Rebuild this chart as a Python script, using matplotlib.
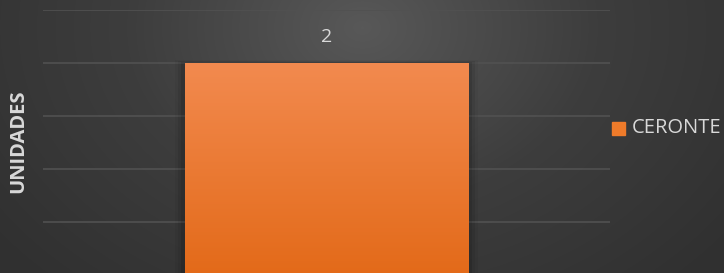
import numpy as np
import matplotlib
matplotlib.use("Agg")
import matplotlib.pyplot as plt
from matplotlib.colors import LinearSegmentedColormap

categories = ["CERONTE"]
values = [2]
series_name = "CERONTE"
y_label = "UNIDADES"

W, H = 724, 273
fig = plt.figure(figsize=(W / 100, H / 100), dpi=100)

# radial gradient background
bg = fig.add_axes([0, 0, 1, 1], zorder=-10)
yy, xx = np.mgrid[0:H, 0:W]
r = np.sqrt(((xx - W * 0.5) / (W * 0.65)) ** 2 + ((yy - H * 0.1) / (H * 1.3)) ** 2)
r = np.clip(r, 0, 1)
bg_cmap = LinearSegmentedColormap.from_list("bg", ["#585858", "#3d3d3d", "#303030"])
bg.imshow(r, cmap=bg_cmap, aspect="auto", extent=[0, 1, 0, 1], vmin=0, vmax=1)
bg.set_axis_off()

left, right = 43 / W, 610 / W
top, bottom = (H - 10) / H, (H - 275) / H
ax = fig.add_axes([left, bottom, right - left, top - bottom])
ax.patch.set_alpha(0)

x = np.arange(len(categories))
bars = ax.bar(x, values, width=1.0, color="#ee7a28", zorder=3)
ax.set_xlim(-1, 1)
ax.set_ylim(0, 2.5)
ax.set_yticks(np.arange(0, 2.51, 0.5))
ax.yaxis.grid(True, color="#515151", linewidth=1.2, zorder=0)
ax.tick_params(left=False, bottom=False, labelleft=False, labelbottom=False)
for s in ax.spines.values():
    s.set_visible(False)

# bar gradient + soft shadow
bar_cmap = LinearSegmentedColormap.from_list("bar", ["#e36a19", "#f28a4f"])
for b in bars:
    bx, bw, bh = b.get_x(), b.get_width(), b.get_height()
    for i, a in enumerate([0.10, 0.07, 0.04]):
        d = 0.012 * (i + 1)
        ax.bar(bx + bw / 2, bh + 0.01 * (i + 1), width=bw + 2 * d,
               color="black", alpha=a, zorder=2, linewidth=0)
    grad = np.linspace(0, 1, 256).reshape(-1, 1)
    im = ax.imshow(grad, cmap=bar_cmap, aspect="auto", origin="lower",
                   extent=[bx, bx + bw, 0, bh], zorder=4)
    im.set_clip_path(b)
    ax.text(bx + bw / 2, bh + 0.245, f"{values[0]}", ha="center", va="center",
            color="#d9d9d9", fontsize=14, family="Open Sans", zorder=5)

fig.text(18 / W, 1 - 141 / H, y_label, rotation=90, ha="center", va="center",
         color="#d9d9d9", fontsize=14.5, fontweight="bold", family="Open Sans")

# legend
fig.patches.append(plt.Rectangle((612 / W, 1 - 135 / H), 13 / W, 13 / H,
                                 transform=fig.transFigure, color="#ef7b2a"))
fig.text(632 / W, 1 - 128 / H, series_name, ha="left", va="center",
         color="#d9d9d9", fontsize=14.5, family="Open Sans")

ax.set_xlim(-1, 1)
ax.set_ylim(0, 2.5)
fig.savefig("out.png", dpi=100)
